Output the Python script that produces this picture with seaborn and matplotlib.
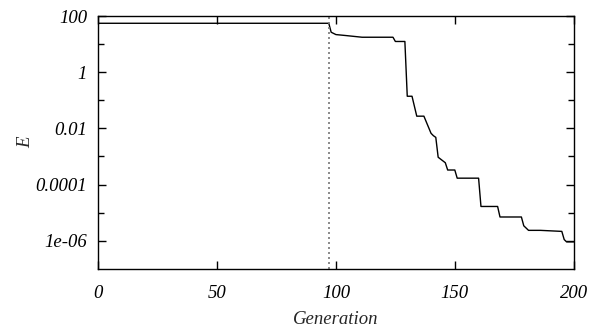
import numpy as np
import pandas as pd
import matplotlib
matplotlib.use("Agg")
import matplotlib.pyplot as plt
import matplotlib.ticker as mticker
import seaborn as sns

sns.set_theme(style="ticks")
plt.rcParams['font.family'] = ['Liberation Serif', 'DejaVu Serif']
plt.rcParams['font.style'] = 'italic'
plt.rcParams['mathtext.default'] = 'it'

# Data (best error E per generation, breakpoints)
generation = [0, 97, 98, 100, 104, 111, 124, 125, 129, 130, 132, 134, 137, 140, 141,
              142, 143, 146, 147, 150, 151, 160, 161, 168, 169, 178, 179, 181, 186,
              195, 196, 197, 200]
error = [55.6, 55.6, 26.7, 22.0, 20.4, 17.7, 17.7, 12.5, 12.5, 0.14, 0.14, 0.0273,
         0.0273, 0.0067, 0.0055, 0.0048, 9.4e-4, 6.0e-4, 3.3e-4, 3.3e-4, 1.69e-4,
         1.69e-4, 1.66e-5, 1.66e-5, 7.0e-6, 7.0e-6, 3.4e-6, 2.34e-6, 2.34e-6,
         2.15e-6, 1.1e-6, 9.1e-7, 9.1e-7]
switch_gen = 97

x_ticks = [0, 50, 100, 150, 200]
y_ticks = [100, 1, 0.01, 0.0001, 1e-06]
y_tick_labels = ["100", "1", "0.01", "0.0001", "1e-06"]
y_minor = [10, 0.1, 0.001, 1e-05]

df = pd.DataFrame({"Generation": generation, "E": error})

fig = plt.figure(figsize=(6.02, 3.29), dpi=100)
ax = fig.add_axes([0.163, 0.183, 0.79, 0.768])

sns.lineplot(data=df, x="Generation", y="E", color="black", linewidth=1.0, ax=ax)
ax.axvline(switch_gen, color="#777777", linestyle=(0, (1.2, 1.8)), linewidth=1.2)

ax.set_yscale("log")
ax.set_xlim(0, 200)
ax.set_ylim(1e-7, 100)
ax.xaxis.set_major_locator(mticker.FixedLocator(x_ticks))
ax.yaxis.set_major_locator(mticker.FixedLocator(y_ticks))
ax.yaxis.set_major_formatter(mticker.FixedFormatter(y_tick_labels))
ax.yaxis.set_minor_locator(mticker.FixedLocator(y_minor))
ax.yaxis.set_minor_formatter(mticker.NullFormatter())

ax.tick_params(which="both", direction="in", top=True, right=True, width=1.0,
               labelsize=13.5, color="black", labelcolor="black")
ax.tick_params(which="major", length=6, pad=12)
ax.tick_params(which="minor", length=4)
ax.tick_params(axis="y", pad=8)
for s in ax.spines.values():
    s.set_visible(True)
    s.set_linewidth(1.0)
    s.set_color("black")

ax.set_xlabel("Generation", fontsize=13.5, labelpad=6)
ax.set_ylabel("E", fontsize=13.5, labelpad=1)

fig.savefig("out.png", dpi=100)
